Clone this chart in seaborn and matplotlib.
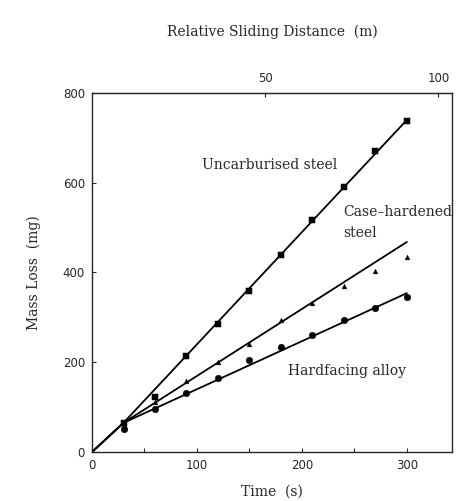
import numpy as np
import pandas as pd
import matplotlib
matplotlib.use("Agg")
import matplotlib.pyplot as plt
import seaborn as sns

# ---- data ----
time_s = [30, 60, 90, 120, 150, 180, 210, 240, 270, 300]
uncarburised = [64, 122, 214, 285, 358, 439, 517, 590, 670, 737]
case_hardened = [60, 112, 158, 200, 241, 294, 332, 370, 403, 434]
hardfacing = [52, 96, 131, 165, 205, 234, 261, 294, 321, 345]

# fitted lines (polyline through origin)
fit_t = [0, 30, 300]
fit_uncarb = [0, 65, 740]
fit_case = [0, 65, 468]
fit_hard = [0, 65, 354]

x_ticks = [0, 100, 200, 300]
x_minor = [50, 150, 250]
y_ticks = [0, 200, 400, 600, 800]
top_ticks_m = [50, 100]
s_per_m = 3.3

sns.set_style("ticks")
plt.rcParams['font.family'] = ['DejaVu Serif']

fig = plt.figure(figsize=(4.61, 5.01), dpi=100)
ax = fig.add_axes([0.1996, 0.0978, 0.7809, 0.7166])

for yv in (fit_uncarb, fit_case, fit_hard):
    sns.lineplot(x=fit_t, y=yv, ax=ax, color="black", lw=1.3, legend=False)

sns.scatterplot(x=time_s, y=uncarburised, ax=ax, marker="s", s=20, color="black",
                edgecolor="black", legend=False, zorder=3)
sns.scatterplot(x=time_s, y=case_hardened, ax=ax, marker="^", s=12, color="black",
                edgecolor="black", legend=False, zorder=3)
sns.scatterplot(x=time_s, y=hardfacing, ax=ax, marker="o", s=22, color="black",
                edgecolor="black", legend=False, zorder=3)

ax.set_xlim(0, 343)
ax.set_ylim(0, 800)
ax.set_xticks(x_ticks)
ax.set_xticks(x_minor, minor=True)
ax.set_yticks(y_ticks)
tick_font = dict(family="DejaVu Sans", size=8.5)
ax.set_xticklabels([str(v) for v in x_ticks], **tick_font)
ax.set_yticklabels([str(v) for v in y_ticks], **tick_font)
ax.tick_params(axis="both", which="both", direction="in", length=3, width=0.8, pad=5)
for sp in ax.spines.values():
    sp.set_linewidth(1.0)
    sp.set_visible(True)

ax.set_xlabel("Time  (s)", fontsize=10, labelpad=9)
ax.set_ylabel("Mass Loss  (mg)", fontsize=10, labelpad=16)

sec = ax.secondary_xaxis("top", functions=(lambda t: t / s_per_m, lambda m: m * s_per_m))
sec.set_xticks(top_ticks_m)
sec.set_xticklabels([str(v) for v in top_ticks_m], **tick_font)
sec.tick_params(direction="in", length=3, width=0.8, pad=6)
sec.set_xlabel("Relative Sliding Distance  (m)", fontsize=10, labelpad=26)

ax.text(169, 639, "Uncarburised steel", ha="center", va="center", fontsize=10)
ax.text(239, 535, "Case\u2013hardened", ha="left", va="center", fontsize=10)
ax.text(239, 488, "steel", ha="left", va="center", fontsize=10)
ax.text(243, 180, "Hardfacing alloy", ha="center", va="center", fontsize=10)

fig.savefig("out.png", dpi=100)
